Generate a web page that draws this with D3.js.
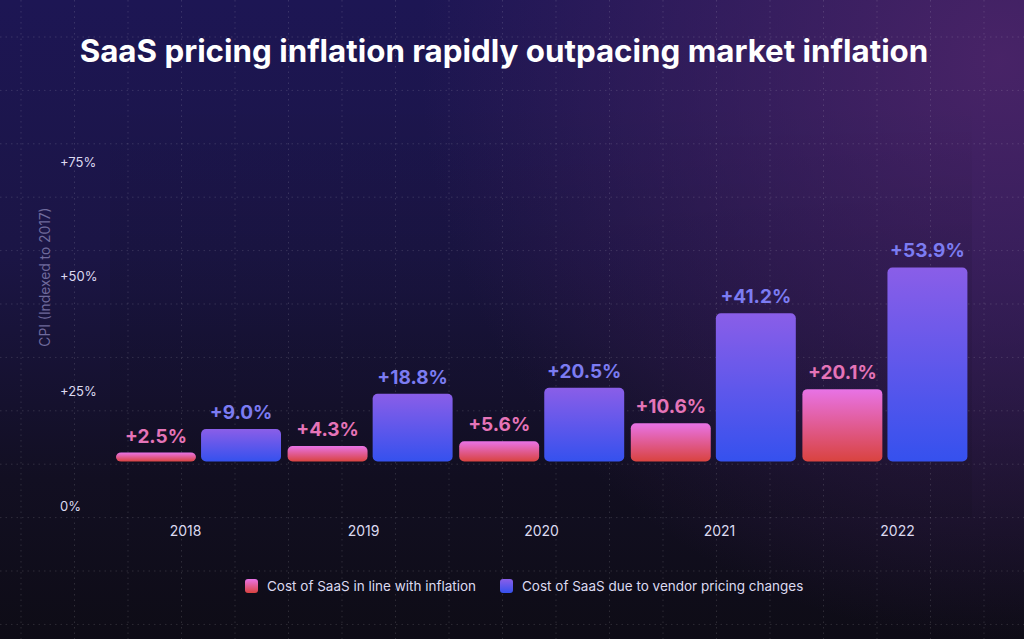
<!DOCTYPE html>
<html>
<head>
<meta charset="utf-8">
<script src="https://cdn.jsdelivr.net/npm/d3@7"></script>
<style>
  html, body { margin: 0; padding: 0; background: #0f0d18; }
  svg { display: block; font-family: Inter, "Noto Sans", sans-serif; }
</style>
</head>
<body>
<svg id="drawing_region" width="1024" height="639"></svg>
<script>
// data
const years = ["2018", "2019", "2020", "2021", "2022"];
const inflation = [2.5, 4.3, 5.6, 10.6, 20.1];
const vendor = [9.0, 18.8, 20.5, 41.2, 53.9];
const seriesNames = ["Cost of SaaS in line with inflation", "Cost of SaaS due to vendor pricing changes"];
const yTicks = [0, 25, 50, 75];

const W = 1024, H = 639;
const svg = d3.select('#drawing_region');
const defs = svg.append("defs");

// background gradients
const bg = defs.append("linearGradient").attr("id", "bg").attr("x1", 0).attr("y1", 0).attr("x2", 0).attr("y2", 1);
bg.append("stop").attr("offset", "0%").attr("stop-color", "#1d1654");
bg.append("stop").attr("offset", "40%").attr("stop-color", "#1b1545");
bg.append("stop").attr("offset", "75%").attr("stop-color", "#120f22");
bg.append("stop").attr("offset", "100%").attr("stop-color", "#0e0c16");

const glow = defs.append("radialGradient").attr("id", "glow")
    .attr("cx", 1000).attr("cy", 60).attr("r", 580).attr("gradientUnits", "userSpaceOnUse");
glow.append("stop").attr("offset", "0%").attr("stop-color", "#4a2468").attr("stop-opacity", 0.95);
glow.append("stop").attr("offset", "100%").attr("stop-color", "#4a2468").attr("stop-opacity", 0);

const pinkGrad = defs.append("linearGradient").attr("id", "pink").attr("x1", 0).attr("y1", 0).attr("x2", 0).attr("y2", 1);
pinkGrad.append("stop").attr("offset", "0%").attr("stop-color", "#e873e6");
pinkGrad.append("stop").attr("offset", "100%").attr("stop-color", "#d9433f");

const blueGrad = defs.append("linearGradient").attr("id", "blue").attr("x1", 0).attr("y1", 0).attr("x2", 0).attr("y2", 1);
blueGrad.append("stop").attr("offset", "0%").attr("stop-color", "#8a5ee8");
blueGrad.append("stop").attr("offset", "100%").attr("stop-color", "#3551ee");

const panel = defs.append("linearGradient").attr("id", "panel").attr("x1", 0).attr("y1", 0).attr("x2", 0).attr("y2", 1);
panel.append("stop").attr("offset", "0%").attr("stop-color", "#000").attr("stop-opacity", 0);
panel.append("stop").attr("offset", "35%").attr("stop-color", "#000").attr("stop-opacity", 0.07);
panel.append("stop").attr("offset", "100%").attr("stop-color", "#000").attr("stop-opacity", 0.07);

svg.append("rect").attr("width", W).attr("height", H).attr("fill", "url(#bg)");
svg.append("rect").attr("width", W).attr("height", H).attr("fill", "url(#glow)");
svg.append("rect").attr("x", 110).attr("y", 100).attr("width", 862).attr("height", 417)
    .attr("fill", "url(#panel)");

// dotted background grid
const grid = svg.append("g").attr("stroke", "rgba(255,255,255,0.13)").attr("stroke-dasharray", "1.5,4");
grid.selectAll("line.h").data(d3.range(37, H, 53.4)).join("line")
    .attr("x1", 0).attr("x2", W).attr("y1", d => d).attr("y2", d => d);
grid.selectAll("line.v").data(d3.range(21, W, 53.5)).join("line")
    .attr("y1", 0).attr("y2", H).attr("x1", d => d).attr("x2", d => d);

// title
svg.append("text")
    .attr("x", 504).attr("y", 62)
    .attr("text-anchor", "middle")
    .attr("fill", "#ffffff")
    .attr("font-size", 31.3).attr("font-weight", 700)
    .text("SaaS pricing inflation rapidly outpacing market inflation");

// y axis (tick labels)
const yAxisScale = d3.scaleLinear().domain([0, 75]).range([506, 162]);
const yAxis = svg.append("g").attr("transform", "translate(60,0)")
    .call(d3.axisLeft(yAxisScale).tickValues(yTicks).tickSize(0)
        .tickFormat(d => d === 0 ? "0%" : "+" + d + "%"));
yAxis.select(".domain").remove();
yAxis.selectAll("text").attr("text-anchor", "start").attr("x", 0)
    .attr("fill", "#dcdaf0").attr("font-size", 13).attr("font-family", "Inter, sans-serif");

svg.append("text")
    .attr("transform", "translate(50,277) rotate(-90)")
    .attr("text-anchor", "middle")
    .attr("fill", "#6f6a9c").attr("font-size", 13.8)
    .text("CPI (Indexed to 2017)");

// bars
const x0 = d3.scaleBand().domain(years).range([116, 974]).paddingInner(0).paddingOuter(0);
const x1 = d3.scaleBand().domain([0, 1]).range([0, 165]).paddingInner(0.06);
const yBar = d3.scaleLinear().domain([0, 60]).range([461.5, 245.5]);

const rows = years.map((y, i) => ({ year: y, vals: [inflation[i], vendor[i]] }));
const fills = ["url(#pink)", "url(#blue)"];
const labelColors = ["#e574b8", "#7c7cf2"];

const groups = svg.selectAll("g.grp").data(rows).join("g")
    .attr("class", "grp")
    .attr("transform", d => `translate(${x0(d.year)},0)`);

groups.selectAll("rect").data(d => d.vals).join("rect")
    .attr("x", (d, i) => x1(i))
    .attr("y", d => yBar(d))
    .attr("width", x1.bandwidth())
    .attr("height", d => yBar(0) - yBar(d))
    .attr("rx", 5)
    .attr("fill", (d, i) => fills[i]);

groups.selectAll("text").data(d => d.vals).join("text")
    .attr("x", (d, i) => x1(i) + x1.bandwidth() / 2)
    .attr("y", d => yBar(d) - 10)
    .attr("text-anchor", "middle")
    .attr("fill", (d, i) => labelColors[i])
    .attr("font-size", 19).attr("font-weight", 700)
    .text(d => "+" + d.toFixed(1) + "%");

// year labels
const xLabel = d3.scalePoint().domain(years).range([185, 897]);
const xAxis = svg.append("g").attr("transform", "translate(0,532)")
    .call(d3.axisBottom(xLabel).tickSize(0));
xAxis.select(".domain").remove();
xAxis.selectAll("text").attr("dy", "0.32em").attr("y", 0)
    .attr("fill", "#dcdaf0").attr("font-size", 14).attr("font-family", "Inter, sans-serif");

// legend
const legendX = [245, 500];
const legend = svg.selectAll("g.leg").data(seriesNames).join("g")
    .attr("class", "leg")
    .attr("transform", (d, i) => `translate(${legendX[i]},579)`);
legend.append("rect").attr("width", 13).attr("height", 14).attr("rx", 3)
    .attr("fill", (d, i) => fills[i]);
legend.append("text").attr("x", 22).attr("y", 7).attr("dy", "0.35em")
    .attr("fill", "#dcdaf0").attr("font-size", 13.5)
    .text(d => d);
</script>
</body>
</html>
